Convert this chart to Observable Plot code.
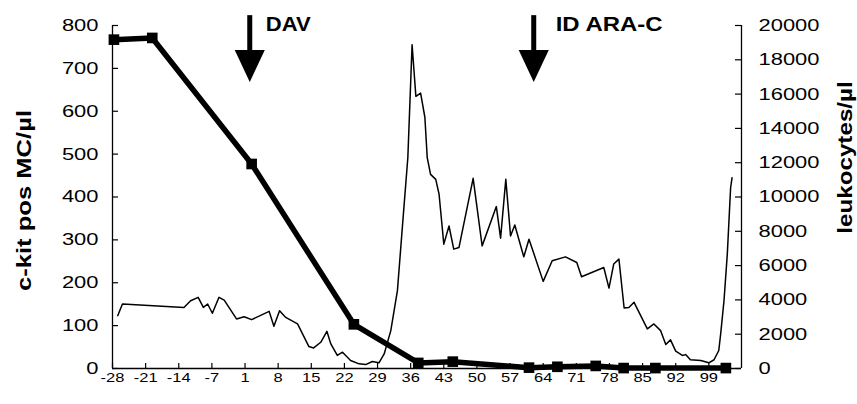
<!DOCTYPE html>
<html><head><meta charset="utf-8">
<script src="https://cdn.jsdelivr.net/npm/d3@7"></script>
<script src="https://cdn.jsdelivr.net/npm/@observablehq/plot@0.6"></script>
<style>html,body{margin:0;padding:0;background:#fff}svg{display:block}</style>
</head><body><div id="chart"></div>
<script>
// c-kit positive mast cells per µl (left axis), thick line with square markers
const ckitDays   = [-27.7, -19.6, 2.4, 24.0, 37.6, 44.9, 61.0, 67.0, 75.1, 81.0, 87.7, 102.6];
const ckitValues = [767, 771, 477, 103, 13, 16, 2, 4, 6, 1, 1, 1];

// leukocytes per µl (right axis), thin line
const leukoDays = [-26.9, -25.9, -12.9, -11.5, -9.9, -8.8, -7.9, -6.9, -5.5, -4.4, -1.8, -0.2,
  2.4, 6.1, 7.1, 8.3, 9.6, 12.1, 14.5, 15.5, 17.0, 18.3, 19.1, 20.5, 21.6, 23.3, 25.1, 26.5,
  27.9, 29.3, 30.4, 31.8, 33.2, 34.3, 35.4, 36.3, 37.1, 38.1, 39.0, 39.5, 40.2, 41.3, 42.0,
  43.0, 44.1, 45.1, 46.2, 49.2, 51.1, 54.1, 55.0, 56.1, 57.1, 58.0, 59.9, 61.0, 64.0, 65.9,
  68.7, 71.1, 72.1, 76.8, 77.9, 78.9, 80.0, 81.1, 82.1, 83.2, 86.0, 87.4, 88.8, 89.9, 90.9,
  92.0, 93.4, 94.1, 95.1, 97.3, 99.0, 100.1, 101.1, 101.5, 102.2, 102.9, 103.6, 103.9];
const leukoValues = [3080, 3760, 3560, 3950, 4150, 3560, 3760, 3220, 4150, 3990, 2890, 3020,
  2850, 3330, 2460, 3370, 2980, 2600, 1280, 1200, 1530, 2170, 1450, 760, 950, 470, 270, 230,
  410, 330, 850, 2210, 4540, 8430, 12290, 18880, 15870, 16060, 14650, 12290, 11320, 11030, 10160,
  7250, 8310, 6960, 7050, 11090, 7150, 9440, 7600, 11030, 7730, 8370, 6510, 7540, 5080, 6280,
  6510, 6180, 5350, 5890, 4690, 6090, 6380, 3530, 3560, 3860, 2310, 2600, 2210, 1400, 1670,
  1010, 760, 810, 510, 470, 330, 510, 1050, 2020, 3950, 6670, 10540, 11120];

const xTickLabels = ["-28","-21","-14","-7","1","8","15","22","29","36","43","50","57","64","71","78","85","92","99"];
const leftTicks  = [0, 100, 200, 300, 400, 500, 600, 700, 800];
const rightTicks = [0, 2000, 4000, 6000, 8000, 10000, 12000, 14000, 16000, 18000, 20000];
const treatments    = ["DAV", "ID ARA-C"];
const treatmentDays = [2, 62];
const arrowTop = 823, arrowTip = 668;   // in left-axis units
const dayDomain = [-28, 105.9];
const ckitMax = 800, leukoMax = 20000;

// category axis: day 0 does not exist, so -7 → 1 is one week like the others
const pos = d => d > 0 ? d - 1 : d;
const toLeft = v => v * ckitMax / leukoMax;

const ckit  = ckitDays.map((d, i) => ({x: pos(d), y: ckitValues[i]}));
const leuko = leukoDays.map((d, i) => ({x: pos(d), y: toLeft(leukoValues[i])}));
const xTickPos = xTickLabels.map(s => pos(+s));
const xLabelOf = new Map(xTickPos.map((p, i) => [p, xTickLabels[i]]));
const rightPos = rightTicks.map(toLeft);
const rightLabelOf = new Map(rightPos.map((p, i) => [p, String(rightTicks[i])]));
const arrows = treatments.map((t, i) => ({label: t, x: pos(treatmentDays[i])}));
const labelStyle = [{dx: 16, widen: 1.05}, {dx: 22, widen: 1.14}];

const arrowHead = {draw(ctx, size) {
  const h = Math.sqrt(size), w = h * 0.94;
  ctx.moveTo(0, 0); ctx.lineTo(-w / 2, -h); ctx.lineTo(w / 2, -h); ctx.closePath();
}};

const chart = Plot.plot({
  width: 857, height: 404,
  marginLeft: 112, marginRight: 116, marginTop: 25, marginBottom: 36,
  style: {fontFamily: "'Liberation Sans', Arial, sans-serif", color: "#000", background: "#fff"},
  x: {domain: [pos(dayDomain[0]), pos(dayDomain[1])]},
  y: {domain: [0, ckitMax]},
  marks: [
    Plot.ruleY([0], {stroke: "#000", strokeWidth: 1.3}),
    Plot.ruleX([pos(dayDomain[0])], {stroke: "#000", strokeWidth: 1.3}),
    Plot.ruleX([pos(dayDomain[1])], {stroke: "#000", strokeWidth: 1.3}),
    Plot.tickX(xTickPos, {x: d => d, insetTop: 338, stroke: "#000", strokeWidth: 1.2}),
    Plot.tickY(leftTicks, {y: d => d, insetRight: 623, stroke: "#000", strokeWidth: 1.2}),
    Plot.tickY(rightPos, {y: d => d, insetLeft: 623, stroke: "#000", strokeWidth: 1.2}),
    Plot.axisX({ticks: xTickPos, tickFormat: d => xLabelOf.get(d), tickSize: 0, tickPadding: 5, fontSize: 12.5, label: null}),
    Plot.axisY({anchor: "left", ticks: leftTicks, tickSize: 0, tickPadding: 14, fontSize: 17, label: null}),
    Plot.axisY({anchor: "right", ticks: rightPos, tickFormat: d => rightLabelOf.get(d), tickSize: 0, tickPadding: 17, fontSize: 17, label: null}),
    Plot.line(leuko, {x: "x", y: "y", stroke: "#000", strokeWidth: 1.5, strokeLinejoin: "round"}),
    Plot.line(ckit, {x: "x", y: "y", stroke: "#000", strokeWidth: 5.5, strokeLinejoin: "round"}),
    Plot.dot(ckit, {x: "x", y: "y", symbol: "square", r: 6, fill: "#000", stroke: null}),
    Plot.ruleX(arrows, {x: "x", y1: arrowTop, y2: arrowTip, insetBottom: 20, stroke: "#000", strokeWidth: 5, strokeLinecap: "butt"}),
    Plot.dot(arrows, {x: "x", y: arrowTip, symbol: arrowHead, r: 18.05, fill: "#000", stroke: null}),
    ...arrows.map((a, i) => Plot.text([a], {x: "x", y: arrowTop, text: "label", dx: labelStyle[i].dx, textAnchor: "start", lineAnchor: "top", fontSize: 21, fontWeight: "bold", ariaLabel: () => "w" + labelStyle[i].widen})),
    Plot.text(["c-kit pos MC/µl"], {frameAnchor: "left", text: d => d, textAnchor: "middle", rotate: -90, dx: -88, dy: 3.5, fontSize: 20, fontWeight: "bold", ariaLabel: () => "w1.28"}),
    Plot.text(["leukocytes/µl"], {frameAnchor: "right", text: d => d, textAnchor: "middle", rotate: -90, dx: 104, dy: -39.5, fontSize: 20, fontWeight: "bold", ariaLabel: () => "w1.21"})
  ]
});

// the original's lettering is drawn wider than Arial: widen each text along its own direction
const axisWiden = {"x-axis tick label": 1.32, "y-axis tick label": 1.29};
chart.querySelectorAll("text").forEach(t => {
  let k = null;
  const own = t.getAttribute("aria-label");
  if (own && own.startsWith("w")) k = +own.slice(1);
  else {
    const g = t.closest("g[aria-label]");
    if (g) k = axisWiden[g.getAttribute("aria-label")] || null;
  }
  if (!k) return;
  const tr = t.getAttribute("transform") || "";
  t.setAttribute("transform", `${tr} scale(${k},1)`);
});
document.getElementById("chart").appendChild(chart);
</script>
</body></html>
